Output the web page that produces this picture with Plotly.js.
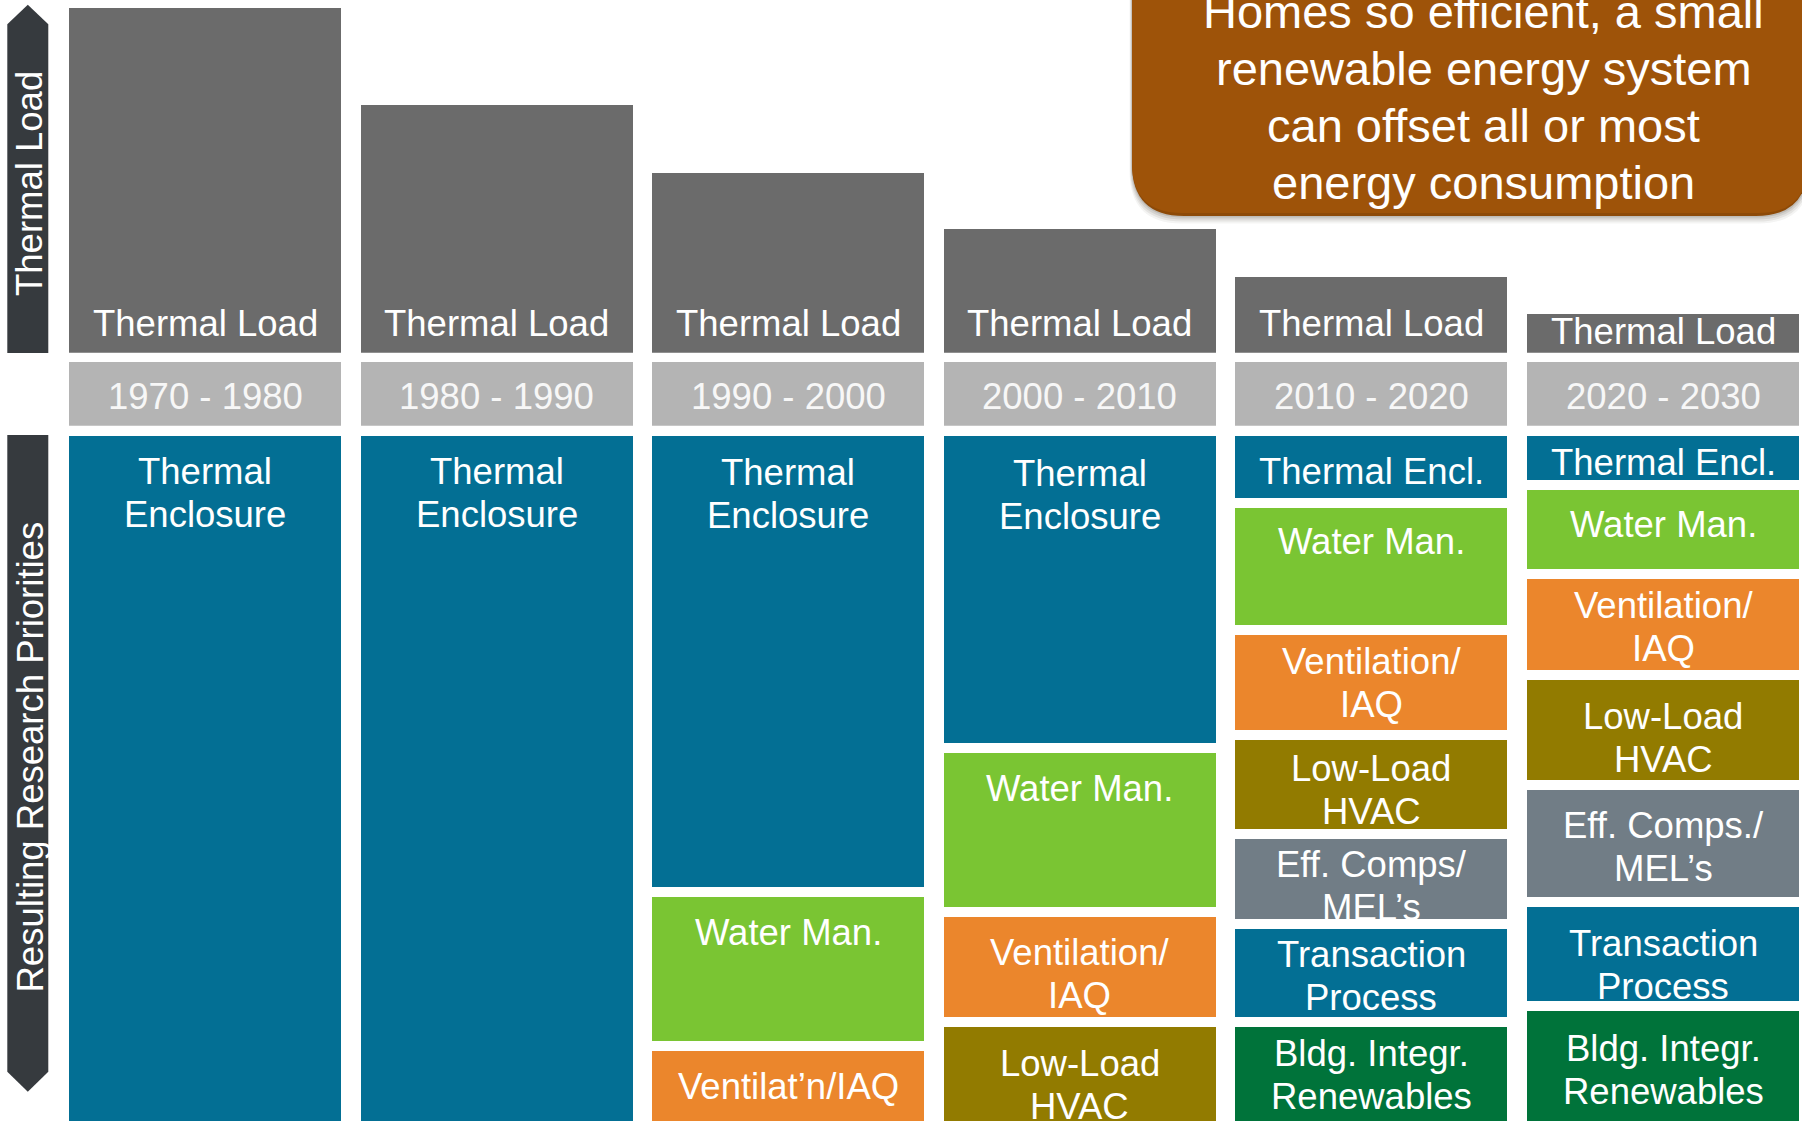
<!DOCTYPE html>
<html>
<head>
<meta charset="utf-8">
<script src="https://cdn.plot.ly/plotly-3.0.1.min.js"></script>
<style>
html,body{margin:0;padding:0;background:#ffffff;}
#chart{width:1802px;height:1121px;}
</style>
</head>
<body>
<div id="chart"></div>
<script>
// ================= DATA =================
const decades = ["1970 - 1980", "1980 - 1990", "1990 - 2000", "2000 - 2010", "2010 - 2020", "2020 - 2030"];
// relative thermal load per decade (1970s = 100)
const thermalLoad = [100, 71.9, 52.1, 35.9, 22.0, 11.2];
const thermalLoadLabel = "Thermal Load";

// relative share of each research priority (blocks stacked from the top; null = not a priority)
const thermalEnclosure = [104, 104, 66.8, 45.9, 10.4, 7.8];
const waterManagement  = [null, null, 22.4, 23.8, 18.4, 12.9];
const ventilationIAQ   = [null, null, 14.8, 16.0, 15.3, 14.7];
const lowLoadHVAC      = [null, null, null, 18.3, 14.3, 15.9];
const effComponents    = [null, null, null, null, 13.0, 17.0];
const transactionProc  = [null, null, null, null, 14.3, 15.1];
const bldgRenewables   = [null, null, null, null, 18.3, 20.6];

const thermalEnclosureText = ["Thermal\nEnclosure", "Thermal\nEnclosure", "Thermal\nEnclosure", "Thermal\nEnclosure", "Thermal Encl.", "Thermal Encl."];
const waterManagementText  = ["", "", "Water Man.", "Water Man.", "Water Man.", "Water Man."];
const ventilationIAQText   = ["", "", "Ventilat\u2019n/IAQ", "Ventilation/\nIAQ", "Ventilation/\nIAQ", "Ventilation/\nIAQ"];
const lowLoadHVACText      = ["", "", "", "Low-Load\nHVAC", "Low-Load\nHVAC", "Low-Load\nHVAC"];
const effComponentsText    = ["", "", "", "", "Eff. Comps/\nMEL\u2019s", "Eff. Comps./\nMEL\u2019s"];
const transactionProcText  = ["", "", "", "", "Transaction\nProcess", "Transaction\nProcess"];
const bldgRenewablesText   = ["", "", "", "", "Bldg. Integr.\nRenewables", "Bldg. Integr.\nRenewables"];

const calloutLines = ["Homes so efficient, a small", "renewable energy system", "can offset all or most", "energy consumption"];
const axisLabelTop = "Thermal Load";
const axisLabelBottom = "Resulting Research Priorities";

// ================= STYLE =================
const W = 1802, H = 1121;
const FONT = '"Liberation Sans", Arial, Helvetica, sans-serif';
const FS = 36.5;
const CAPOFF = (0.905 - 0.716) * FS;
const LINE = 43;
const GAP_LINE = 10;
const PAD_ADJ = 2.5;

const C_TOP = "#6b6b6b", C_YEAR = "#b4b4b4", C_ARROW = "#363a3e";
const C_BLUE = "#036f94", C_GREEN = "#7ac533", C_ORANGE = "#eb862c",
      C_OLIVE = "#927b00", C_SLATE = "#717d86", C_DKGREEN = "#00733a", C_CALLOUT = "#9e5309";

// pixel geometry of the three bands
const TOP_BASE_PX = 352.7, YEAR_TOP_PX = 362, YEAR_BOT_PX = 425.7, BOT_TOP_PX = 431;
const COL0_PX = 205, COL_STEP_PX = 291.6;
const TOP_RANGE = 102.32;
const pxPerTopUnit = TOP_BASE_PX / TOP_RANGE;

// label padding (px from block top to cap top), per series / column
const padTE  = [19.5, 19.5, 20, 21, 19, 10];
const padWM  = [0, 0, 19, 20, 17.5, 19];
const padVI  = [0, 0, 19, 19.6, 11, 11];
const padLL  = [0, 0, 0, 20, 12, 20];
const padEC  = [0, 0, 0, 0, 9, 19.5];
const padTP  = [0, 0, 0, 0, 10, 20];
const padBR  = [0, 0, 0, 0, 10, 20.5];

const series = [
  {name: "Thermal Enclosure", values: thermalEnclosure, text: thermalEnclosureText, color: C_BLUE, pad: padTE},
  {name: "Water Management", values: waterManagement, text: waterManagementText, color: C_GREEN, pad: padWM},
  {name: "Ventilation/IAQ", values: ventilationIAQ, text: ventilationIAQText, color: C_ORANGE, pad: padVI},
  {name: "Low-Load HVAC", values: lowLoadHVAC, text: lowLoadHVACText, color: C_OLIVE, pad: padLL},
  {name: "Efficient Components/MELs", values: effComponents, text: effComponentsText, color: C_SLATE, pad: padEC},
  {name: "Transaction Process", values: transactionProc, text: transactionProcText, color: C_BLUE, pad: padTP},
  {name: "Bldg. Integrated Renewables", values: bldgRenewables, text: bldgRenewablesText, color: C_DKGREEN, pad: padBR}
];

const xs = decades.map((d, i) => i);
const px2x = p => p / W;
const py2y = p => 1 - p / H;

// ================= TRACES =================
const traces = [];
traces.push({
  type: "bar", x: xs, y: thermalLoad, xaxis: "x", yaxis: "y",
  marker: {color: C_TOP}, width: 272 / COL_STEP_PX, hoverinfo: "skip", showlegend: false
});
traces.push({
  type: "bar", x: xs, y: decades.map(() => 1), xaxis: "x", yaxis: "y2",
  marker: {color: C_YEAR}, width: 272 / COL_STEP_PX, hoverinfo: "skip", showlegend: false
});
series.forEach(s => {
  traces.push({
    type: "bar", name: s.name, x: xs, y: s.values, xaxis: "x", yaxis: "y3",
    marker: {color: s.color, line: {color: "#ffffff", width: GAP_LINE}},
    width: (272 + GAP_LINE) / COL_STEP_PX, hoverinfo: "skip", showlegend: false
  });
});

// ================= ANNOTATIONS =================
function ann(o, size, color) {
  return Object.assign({
    showarrow: false, borderpad: 0, borderwidth: 0,
    font: {family: FONT, size: size || FS, color: color || "#ffffff"}
  }, o);
}
const annotations = [];

// thermal load labels (near bar base)
thermalLoad.forEach((v, i) => {
  const capUp = Math.min(42.7, v * pxPerTopUnit - 4);
  annotations.push(ann({xref: "x", yref: "y", x: i, y: 0, xanchor: "center", yanchor: "top",
    yshift: capUp + CAPOFF, text: thermalLoadLabel}));
});

// decade labels
decades.forEach((d, i) => {
  annotations.push(ann({xref: "x", yref: "y2", x: i, y: 0.5, xanchor: "center", yanchor: "middle",
    yshift: -3, text: d}, FS, "#f7f7f7"));
});

// research priority labels
const cum = decades.map(() => 0);
series.forEach(s => {
  s.values.forEach((v, i) => {
    if (v === null) return;
    const start = cum[i];
    cum[i] += v;
    const t = s.text[i];
    if (!t) return;
    t.split("\n").forEach((line, k) => {
      annotations.push(ann({xref: "x", yref: "y3", x: i, y: start, xanchor: "center", yanchor: "top",
        yshift: -(GAP_LINE / 2 + s.pad[i] + PAD_ADJ + k * LINE - CAPOFF), text: line}));
    });
  });
});

// side arrow labels
annotations.push(ann({xref: "paper", yref: "paper", x: px2x(30), y: py2y(184), xanchor: "center", yanchor: "middle",
  textangle: -90, text: axisLabelTop}));
annotations.push(ann({xref: "paper", yref: "paper", x: px2x(30), y: py2y(757.5), xanchor: "center", yanchor: "middle",
  textangle: -90, text: axisLabelBottom}));

// callout text
const CFS = 47;
const CCAPOFF = (0.905 - 0.716) * CFS;
calloutLines.forEach((line, k) => {
  const baseline = 28 + k * 57;
  const capTop = baseline - 0.716 * CFS;
  annotations.push(ann({xref: "paper", yref: "paper", x: px2x(1483.5), y: py2y(capTop - CCAPOFF),
    xanchor: "center", yanchor: "top", text: line}, CFS));
});

// ================= SHAPES =================
function P(x, y) { return px2x(x).toFixed(5) + "," + py2y(y).toFixed(5); }
function roundedBottom(l, r, t, b, rad) {
  return "M" + P(l, t) + " L" + P(r, t) + " L" + P(r, b - rad) +
    " Q" + P(r, b) + " " + P(r - rad, b) + " L" + P(l + rad, b) +
    " Q" + P(l, b) + " " + P(l, b - rad) + " Z";
}
const shapes = [];
// up arrow (thermal load)
shapes.push({type: "path", xref: "paper", yref: "paper", layer: "below",
  path: "M" + P(7.3, 353) + " L" + P(7.3, 24.3) + " L" + P(27.8, 4.7) + " L" + P(48.3, 24.3) + " L" + P(48.3, 353) + " Z",
  fillcolor: C_ARROW, line: {width: 0}});
// down arrow (research priorities)
shapes.push({type: "path", xref: "paper", yref: "paper", layer: "below",
  path: "M" + P(7.3, 435) + " L" + P(48.3, 435) + " L" + P(48.3, 1071.7) + " L" + P(27.8, 1091.7) + " L" + P(7.3, 1071.7) + " Z",
  fillcolor: C_ARROW, line: {width: 0}});
// callout shadow + box
[[8, 0.05], [6, 0.07], [4, 0.09], [2, 0.12]].forEach(([d, a]) => {
  shapes.push({type: "path", xref: "paper", yref: "paper",
    path: roundedBottom(1132 - d * 0.3, 1808 + d * 0.3, -30, 215.5 + d, 52),
    fillcolor: "rgba(40,30,20," + a + ")", line: {width: 0}});
});
shapes.push({type: "path", xref: "paper", yref: "paper",
  path: roundedBottom(1132, 1808, -30, 216, 52),
  fillcolor: "#8d4a08", line: {width: 0}});
shapes.push({type: "path", xref: "paper", yref: "paper",
  path: roundedBottom(1132, 1808, -30, 213, 50),
  fillcolor: C_CALLOUT, line: {width: 0}});

// ================= LAYOUT =================
const layout = {
  width: W, height: H,
  margin: {l: 0, r: 0, t: 0, b: 0, pad: 0},
  paper_bgcolor: "#ffffff", plot_bgcolor: "rgba(0,0,0,0)",
  showlegend: false, barmode: "stack",
  font: {family: FONT},
  xaxis: {range: [-COL0_PX / COL_STEP_PX, (W - COL0_PX) / COL_STEP_PX], visible: false, fixedrange: true},
  yaxis: {domain: [py2y(TOP_BASE_PX), 1], range: [0, TOP_RANGE], visible: false, fixedrange: true},
  yaxis2: {domain: [py2y(YEAR_BOT_PX), py2y(YEAR_TOP_PX)], range: [0, 1], visible: false, fixedrange: true},
  yaxis3: {domain: [0, py2y(BOT_TOP_PX)], range: [100, 0], visible: false, fixedrange: true},
  annotations: annotations,
  shapes: shapes
};

Plotly.newPlot("chart", traces, layout, {displayModeBar: false, staticPlot: true});
</script>
</body>
</html>
